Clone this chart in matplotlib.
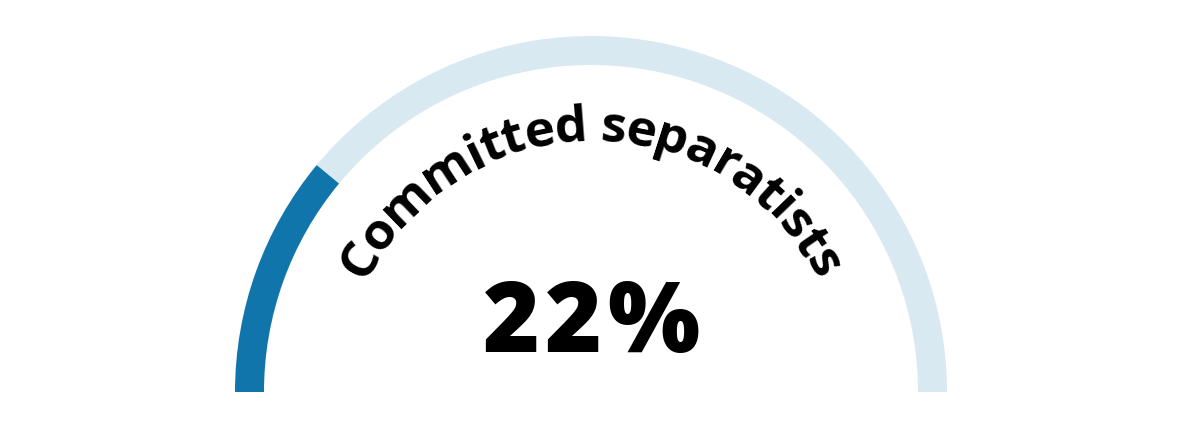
import numpy as np
import matplotlib
matplotlib.use('Agg')
import matplotlib.pyplot as plt
from matplotlib.patches import Wedge
from matplotlib.font_manager import FontProperties

# data
label = 'Committed separatists'
share = 22          # percent
value_text = '22%'

DARK = '#0f75ab'
LIGHT = '#d9e9f2'

W, H = 1180, 428
fig = plt.figure(figsize=(W / 100, H / 100), dpi=100)
ax = fig.add_axes([0, 0, 1, 1])
ax.set_xlim(0, W)
ax.set_ylim(0, H)
ax.axis('off')

cx, cy = 591, H - 392
r_out, ring = 356, 29

split = 180 - share / 100 * 180
ax.add_patch(Wedge((cx, cy), r_out, 0, split, width=ring, color=LIGHT, lw=0))
ax.add_patch(Wedge((cx, cy), r_out, split, 180, width=ring, color=DARK, lw=0))

renderer = fig.canvas.get_renderer()
def width_px(s, prop):
    if not s:
        return 0.0
    w, h, d = renderer.get_text_width_height_descent(s, prop, ismath=False)
    return w

# curved label along the arc, first glyph centre at 150 deg, last at 29 deg
prop = FontProperties(family='Open Sans', weight='bold', size=37)
r_base = 251
a_first, a_last = 150, 29
centres = [(width_px(label[:i], prop) + width_px(label[:i + 1], prop)) / 2
           for i in range(len(label))]
c0, c1 = centres[0], centres[-1]
for ch, c in zip(label, centres):
    ang = a_first - (c - c0) / (c1 - c0) * (a_first - a_last)
    x = cx + r_base * np.cos(np.radians(ang))
    y = cy + r_base * np.sin(np.radians(ang))
    ax.text(x, y, ch, fontproperties=prop, rotation=ang - 90,
            rotation_mode='anchor', ha='center', va='baseline', color='black')

# big number, drawn with a little extra spacing
vprop = FontProperties(family='Open Sans', weight='heavy', size=70)
gap = 5
tot = width_px(value_text, vprop) + gap * (len(value_text) - 1)
x0 = cx - tot / 2
for i, ch in enumerate(value_text):
    ax.text(x0 + width_px(value_text[:i], vprop) + gap * i, H - 352, ch,
            fontproperties=vprop, ha='left', va='baseline', color='black')

fig.savefig('out.png', dpi=100, facecolor='white')
